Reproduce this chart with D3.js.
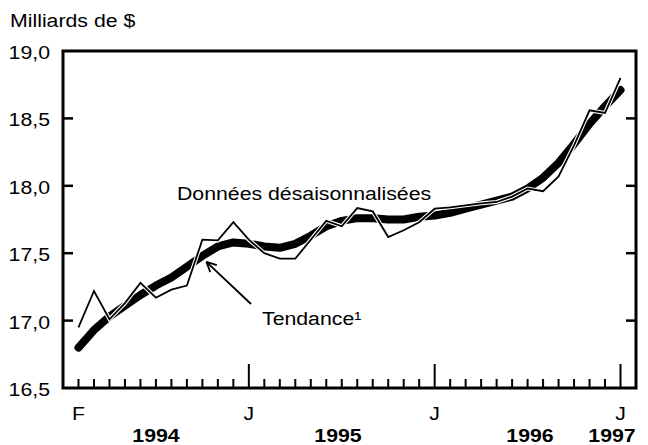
<!DOCTYPE html>
<html>
<head>
<meta charset="utf-8">
<script src="https://cdn.jsdelivr.net/npm/d3@7"></script>
<style>
  body { margin: 0; background: white; }
  text { font-family: Arial, "Liberation Sans", sans-serif; fill: black; }
</style>
</head>
<body>
<svg id="canvas" width="648" height="445"></svg>
<script>
// months from Feb 1994 to Jan 1997
var months = ["1994-02","1994-03","1994-04","1994-05","1994-06","1994-07","1994-08","1994-09","1994-10","1994-11","1994-12",
              "1995-01","1995-02","1995-03","1995-04","1995-05","1995-06","1995-07","1995-08","1995-09","1995-10","1995-11","1995-12",
              "1996-01","1996-02","1996-03","1996-04","1996-05","1996-06","1996-07","1996-08","1996-09","1996-10","1996-11","1996-12",
              "1997-01"];

// seasonally adjusted data (billions of $)
var adjusted = [16.95, 17.22, 17.01, 17.13, 17.28, 17.17, 17.23, 17.26, 17.60, 17.595, 17.73,
                17.60, 17.50, 17.46, 17.46, 17.60, 17.74, 17.70, 17.835, 17.81, 17.62, 17.67, 17.73,
                17.83, 17.84, 17.855, 17.87, 17.88, 17.92, 17.98, 17.96, 18.07, 18.30, 18.56, 18.54,
                18.80];

// trend
var trend = [16.80, 16.93, 17.03, 17.11, 17.19, 17.26, 17.32, 17.40, 17.48, 17.55, 17.58,
             17.57, 17.55, 17.54, 17.57, 17.63, 17.70, 17.74, 17.76, 17.76, 17.75, 17.75, 17.77,
             17.78, 17.80, 17.83, 17.86, 17.89, 17.92, 17.98, 18.06, 18.17, 18.31, 18.46, 18.59,
             18.71];

var yTicks = [16.5, 17.0, 17.5, 18.0, 18.5, 19.0];
var monthLabels = [["1994-02", "F"], ["1995-01", "J"], ["1996-01", "J"], ["1997-01", "J"]];
var yearLabels = [["1994", 156], ["1995", 338], ["1996", 530], ["1997", 612]];

var svg = d3.select("#canvas");
var plotL = 63, plotR = 636, plotT = 51, plotB = 388;
var sx = 1.12;   // the original lettering is a little wide

var fr = d3.formatLocale({decimal: ",", thousands: " ", grouping: [3], currency: ["", " $"]});
var fmt = fr.format(".1f");

var x = d3.scalePoint()
    .domain(months)
    .range([plotL, plotR])
    .padding(1);

var y = d3.scaleLinear()
    .domain([16.5, 19])
    .range([plotB, plotT]);

function label(txt, px, py, size, anchor, weight) {
  return svg.append("text")
    .attr("transform", "translate(" + px + "," + py + ") scale(" + sx + ",1)")
    .attr("text-anchor", anchor || "start")
    .style("font-size", size + "px")
    .style("font-weight", weight || "normal")
    .text(txt);
}

// unit
label("Milliards de $", 10, 27, 19);

// y tick labels
yTicks.forEach(function(v) {
  label(fmt(v), 50, y(v) + 8, 19, "end");
});

// inner y ticks, both sides
var inner = yTicks.filter(function(v) { return v > 16.5 && v < 19; });
svg.selectAll("line.ytl").data(inner).enter().append("line")
  .attr("x1", plotL).attr("x2", plotL + 10)
  .attr("y1", function(d) { return y(d); }).attr("y2", function(d) { return y(d); })
  .style("stroke", "black").style("stroke-width", 2.5);
svg.selectAll("line.ytr").data(inner).enter().append("line")
  .attr("x1", plotR - 10).attr("x2", plotR)
  .attr("y1", function(d) { return y(d); }).attr("y2", function(d) { return y(d); })
  .style("stroke", "black").style("stroke-width", 2.5);

// month ticks on the bottom axis, long ones at January
svg.selectAll("line.xt").data(months).enter().append("line")
  .attr("x1", function(d) { return x(d); }).attr("x2", function(d) { return x(d); })
  .attr("y1", plotB)
  .attr("y2", function(d) { return d.slice(5) == "01" ? plotB - 24 : plotB - 9; })
  .style("stroke", "black").style("stroke-width", 2);

monthLabels.forEach(function(m) {
  label(m[1], x(m[0]), 420, 19, "middle");
});
yearLabels.forEach(function(m) {
  label(m[0], m[1], 442, 19, "middle", "bold");
});

// series
var line = d3.line()
  .x(function(d, i) { return x(months[i]); })
  .y(function(d) { return y(d); });

svg.append("path")
  .datum(trend)
  .attr("d", line)
  .style("fill", "none")
  .style("stroke", "black")
  .style("stroke-width", 8)
  .style("stroke-linecap", "round")
  .style("stroke-linejoin", "round");

svg.append("path")
  .datum(adjusted)
  .attr("d", line)
  .style("fill", "none")
  .style("stroke", "white")
  .style("stroke-width", 4);

svg.append("path")
  .datum(adjusted)
  .attr("d", line)
  .style("fill", "none")
  .style("stroke", "black")
  .style("stroke-width", 1.8);

// frame
svg.append("rect")
  .attr("x", plotL).attr("y", plotT)
  .attr("width", plotR - plotL).attr("height", plotB - plotT)
  .style("fill", "none")
  .style("stroke", "black")
  .style("stroke-width", 3);

// annotations
label("Données désaisonnalisées", 177, 200, 19);
label("Tendance\u00b9", 262, 325, 19);

// arrow towards the trend line
var tip = [x(months[8]) + 4, y(trend[8]) + 6];
var tail = [251, 304];
var ang = Math.atan2(tail[1] - tip[1], tail[0] - tip[0]);
svg.append("line")
  .attr("x1", tail[0]).attr("y1", tail[1]).attr("x2", tip[0]).attr("y2", tip[1])
  .style("stroke", "black").style("stroke-width", 1.8);
[-0.45, 0.45].forEach(function(a) {
  svg.append("line")
    .attr("x1", tip[0]).attr("y1", tip[1])
    .attr("x2", tip[0] + 11 * Math.cos(ang + a))
    .attr("y2", tip[1] + 11 * Math.sin(ang + a))
    .style("stroke", "black").style("stroke-width", 1.8);
});
</script>
</body>
</html>
